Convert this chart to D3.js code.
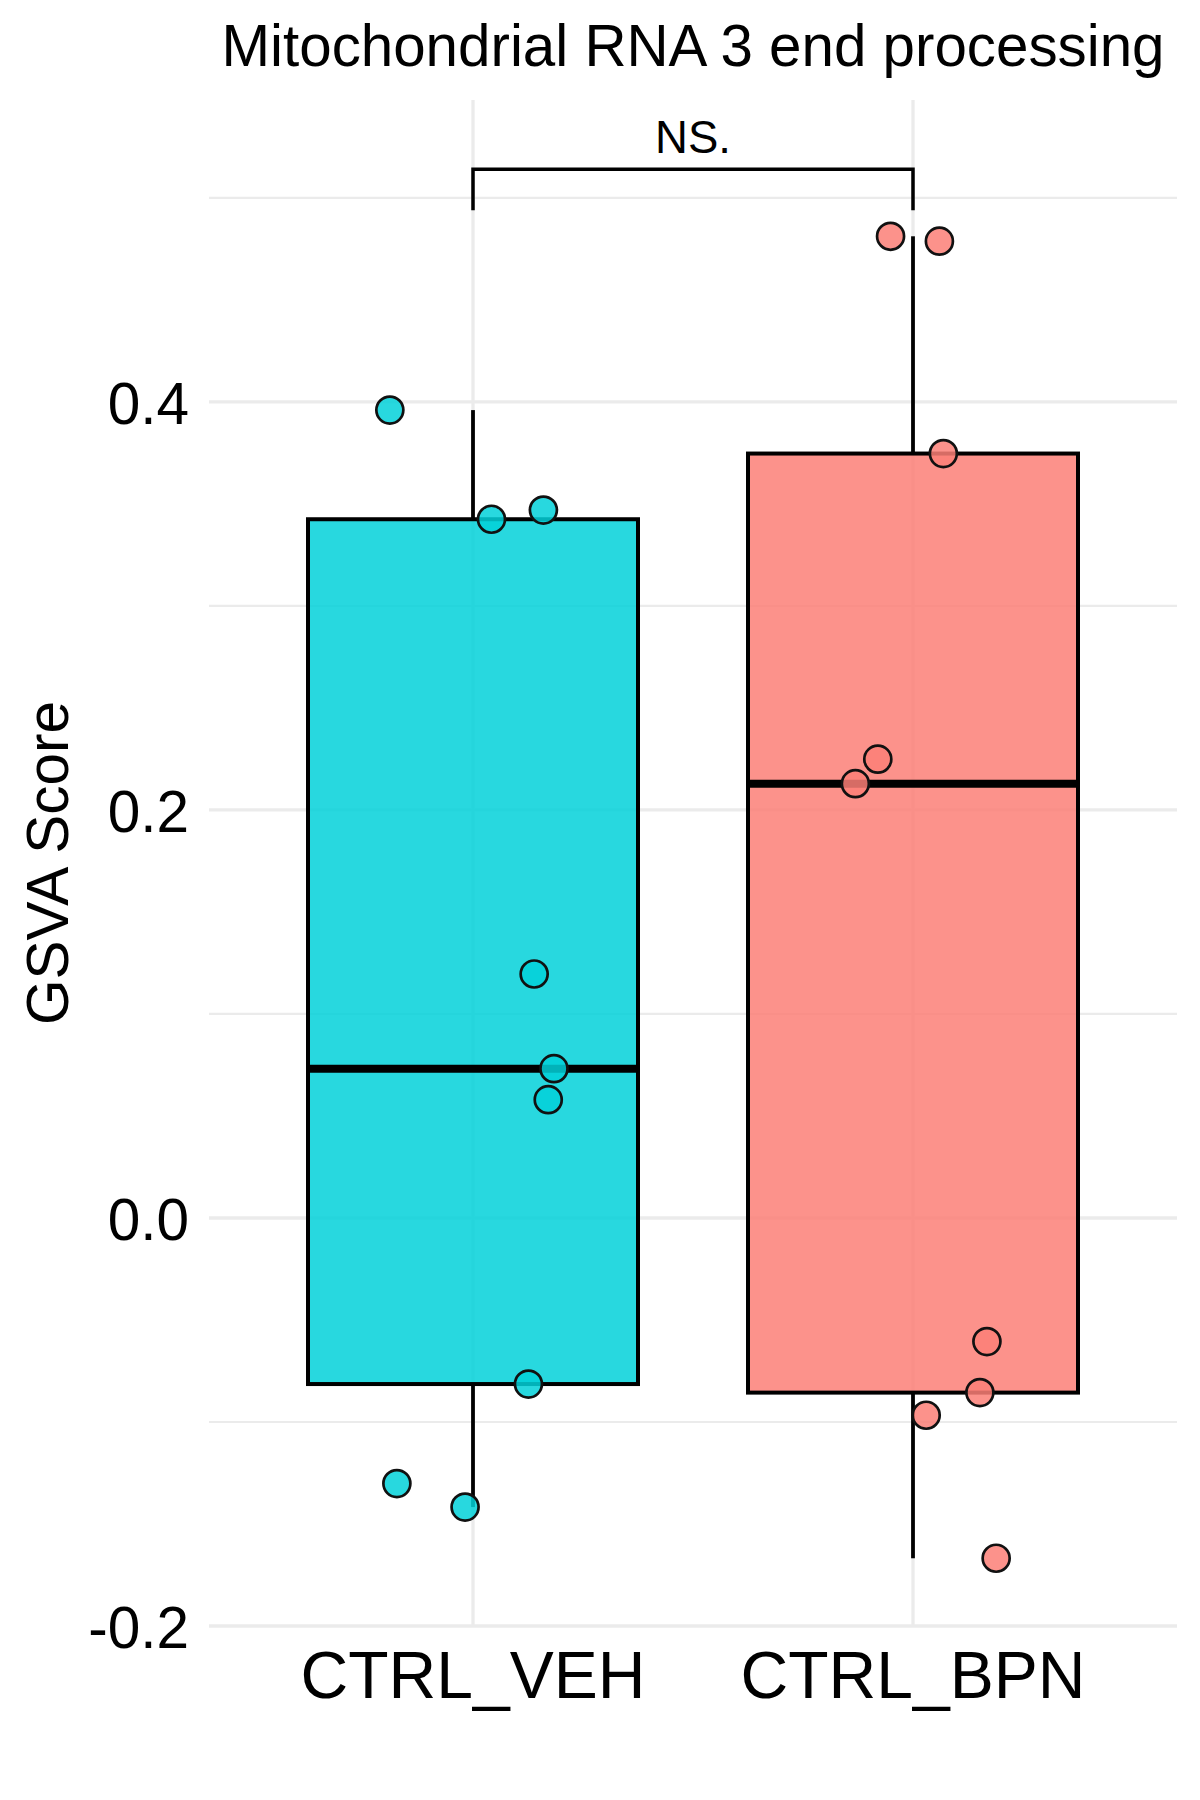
<!DOCTYPE html>
<html>
<head>
<meta charset="utf-8">
<script src="https://cdn.jsdelivr.net/npm/d3@7"></script>
<style>
  html, body { margin: 0; padding: 0; background: #ffffff; }
  svg { display: block; font-family: "Liberation Sans", Arial, Helvetica, sans-serif; }
</style>
</head>
<body>
<svg id="chart" width="1200" height="1800"></svg>
<script>
// ---------- data ----------
const categories = ["CTRL_VEH", "CTRL_BPN"];
const valuesVEH = [0.396, 0.3425, 0.347, 0.1196, 0.0732, 0.058, -0.0814, -0.1302, -0.1417];
const jitterVEH = [-0.189, 0.042, 0.160, 0.139, 0.184, 0.171, 0.126, -0.173, -0.018];
const valuesBPN = [0.4812, 0.4788, 0.3747, 0.2249, 0.2129, -0.0606, -0.0856, -0.0967, -0.1668];
const jitterBPN = [-0.051, 0.060, 0.069, -0.080, -0.131, 0.168, 0.152, 0.030, 0.189];
const majorTicks = [-0.2, 0.0, 0.2, 0.4];
const minorTicks = [-0.1, 0.1, 0.3, 0.5];
const tickLabels = ["-0.2", "0.0", "0.2", "0.4"];
const yDomain = [-0.2, 0.548];
const bracketValue = 0.514;
const bracketTipValue = 0.494;
const titleText = "Mitochondrial RNA 3 end processing";
const yTitle = "GSVA Score";
const sigLabel = "NS.";
const fills = ["#02D1D9", "#FC7F77"];

// ---------- layout ----------
const W = 1200, H = 1800;
const panel = { left: 209, right: 1177, top: 100, bottom: 1626 };
const svg = d3.select("#chart");
svg.append("rect").attr("width", W).attr("height", H).attr("fill", "#fff");

const x = d3.scalePoint().domain(categories).range([panel.left, panel.right]).padding(0.6);
const y = d3.scaleLinear().domain(yDomain).range([panel.bottom, panel.top]);
const step = x.step();
const boxW = step * 0.75;

const grid = svg.append("g");
grid.selectAll("line.minor").data(minorTicks).join("line")
  .attr("x1", panel.left).attr("x2", panel.right)
  .attr("y1", d => y(d)).attr("y2", d => y(d))
  .attr("stroke", "#EBEBEB").attr("stroke-width", 2.2);
grid.selectAll("line.major").data(majorTicks).join("line")
  .attr("x1", panel.left).attr("x2", panel.right)
  .attr("y1", d => y(d)).attr("y2", d => y(d))
  .attr("stroke", "#EBEBEB").attr("stroke-width", 3.3);
grid.selectAll("line.vmajor").data(categories).join("line")
  .attr("x1", d => x(d)).attr("x2", d => x(d))
  .attr("y1", panel.top).attr("y2", panel.bottom)
  .attr("stroke", "#EBEBEB").attr("stroke-width", 3.3);

// y tick labels
svg.append("g").selectAll("text").data(majorTicks).join("text")
  .attr("x", 189).attr("y", d => y(d) + 22)
  .attr("text-anchor", "end").attr("font-size", 58.5).attr("fill", "#000")
  .text((d, i) => tickLabels[i]);

// x labels
svg.append("g").selectAll("text").data(categories).join("text")
  .attr("x", d => x(d)).attr("y", 1698)
  .attr("text-anchor", "middle").attr("font-size", 66).attr("fill", "#000")
  .text(d => d);

// y title
svg.append("text")
  .attr("transform", `translate(68, ${(panel.top + panel.bottom) / 2}) rotate(-90)`)
  .attr("text-anchor", "middle").attr("font-size", 58.5).attr("fill", "#000")
  .text(yTitle);

// title
svg.append("text")
  .attr("x", (panel.left + panel.right) / 2).attr("y", 66)
  .attr("text-anchor", "middle").attr("font-size", 58.3).attr("fill", "#000")
  .text(titleText);

// boxplots
const groups = [
  { cat: categories[0], vals: valuesVEH, jit: jitterVEH, fill: fills[0] },
  { cat: categories[1], vals: valuesBPN, jit: jitterBPN, fill: fills[1] }
];
groups.forEach(g => {
  const s = g.vals.slice().sort(d3.ascending);
  const q1 = d3.quantile(s, 0.25), med = d3.quantile(s, 0.5), q3 = d3.quantile(s, 0.75);
  const iqr = q3 - q1;
  const lo = d3.min(s.filter(v => v >= q1 - 1.5 * iqr));
  const hi = d3.max(s.filter(v => v <= q3 + 1.5 * iqr));
  const cx = x(g.cat);
  const b = svg.append("g");
  b.append("line").attr("x1", cx).attr("x2", cx).attr("y1", y(q3)).attr("y2", y(hi))
    .attr("stroke", "#000").attr("stroke-width", 3.8);
  b.append("line").attr("x1", cx).attr("x2", cx).attr("y1", y(q1)).attr("y2", y(lo))
    .attr("stroke", "#000").attr("stroke-width", 3.8);
  b.append("rect").attr("x", cx - boxW / 2).attr("width", boxW)
    .attr("y", y(q3)).attr("height", y(q1) - y(q3))
    .attr("fill", g.fill).attr("fill-opacity", 0.85)
    .attr("stroke", "#000").attr("stroke-width", 4);
  b.append("line").attr("x1", cx - boxW / 2).attr("x2", cx + boxW / 2)
    .attr("y1", y(med)).attr("y2", y(med))
    .attr("stroke", "#000").attr("stroke-width", 8);
});

// points
groups.forEach(g => {
  svg.append("g").selectAll("circle").data(g.vals).join("circle")
    .attr("cx", (d, i) => x(g.cat) + g.jit[i] * step)
    .attr("cy", d => y(d))
    .attr("r", 13.5)
    .attr("fill", g.fill).attr("fill-opacity", 0.85)
    .attr("stroke", "#111").attr("stroke-width", 2.7);
});

// significance bracket
const bx1 = x(categories[0]), bx2 = x(categories[1]);
svg.append("path")
  .attr("d", `M${bx1},${y(bracketTipValue)}V${y(bracketValue)}H${bx2}V${y(bracketTipValue)}`)
  .attr("fill", "none").attr("stroke", "#000").attr("stroke-width", 3.5);
svg.append("text")
  .attr("x", (bx1 + bx2) / 2).attr("y", 153)
  .attr("text-anchor", "middle").attr("font-size", 45.5).attr("fill", "#000")
  .text(sigLabel);
</script>
</body>
</html>
